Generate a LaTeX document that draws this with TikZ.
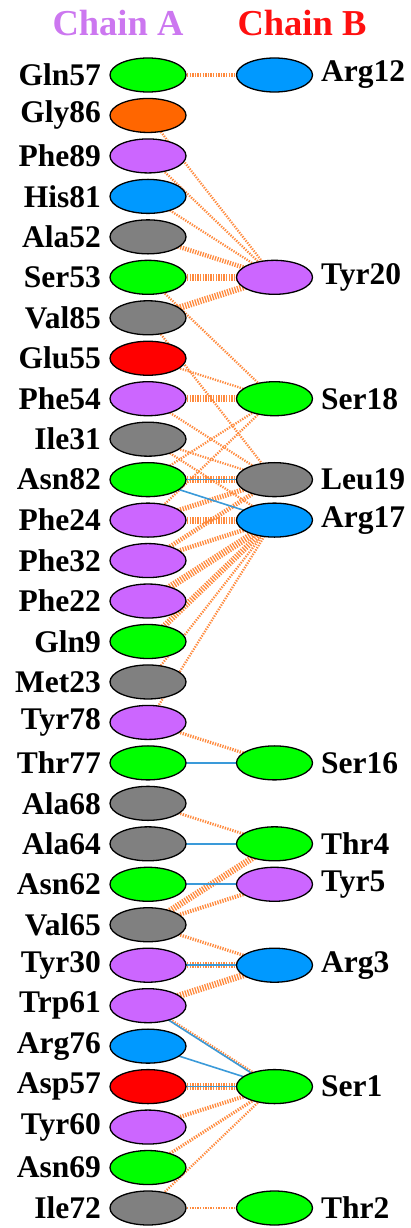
\documentclass[tikz,border=0pt]{standalone}
\usepackage{fontspec}
\setmainfont{Liberation Serif}
\pgfdeclarelayer{bg}
\pgfsetlayers{bg,main}
\definecolor{resgreen}{HTML}{00FF00}
\definecolor{resorange}{HTML}{FF6600}
\definecolor{resviolet}{HTML}{CC66FF}
\definecolor{resblue}{HTML}{0099FF}
\definecolor{resgray}{HTML}{808080}
\definecolor{resred}{HTML}{FF0000}
\definecolor{nbcol}{HTML}{FF8A3D}
\definecolor{hbcol}{HTML}{3A9AD9}
\definecolor{chainA}{HTML}{CC77F0}
\definecolor{chainB}{HTML}{FF1010}
\tikzset{
  res/.style={ellipse, draw=black, line width=1.3pt, minimum width=76pt, minimum height=34pt, inner sep=0pt},
  lab/.style={font=\fontsize{31.5}{31.5}\selectfont\bfseries, inner sep=0pt},
  hdr/.style={font=\fontsize{36.5}{36.5}\selectfont\bfseries, inner sep=0pt},
  nb/.style={draw=nbcol, line width=#1, dash pattern=on 1.3pt off 1.3pt},
  nb/.default=2.3pt,
  hb/.style={draw=hbcol, line width=1.6pt},
}
\usetikzlibrary{shapes.geometric}
\begin{document}
\begin{tikzpicture}[x=1pt,y=-1pt]
\useasboundingbox (0,0) rectangle (411,1228);
% column headers
\node[hdr, text=chainA] (hA) at (118,23) {Chain A};
\node[hdr, text=chainB] (hB) at (302,23) {Chain B};
% chain A residues, one row each
\foreach \n/\c [count=\i from 0] in {
  Gln57/resgreen, Gly86/resorange, Phe89/resviolet, His81/resblue,
  Ala52/resgray, Ser53/resgreen, Val85/resgray, Glu55/resred,
  Phe54/resviolet, Ile31/resgray, Asn82/resgreen, Phe24/resviolet,
  Phe32/resviolet, Phe22/resviolet, Gln9/resgreen, Met23/resgray,
  Tyr78/resviolet, Thr77/resgreen, Ala68/resgray, Ala64/resgray,
  Asn62/resgreen, Val65/resgray, Tyr30/resviolet, Trp61/resviolet,
  Arg76/resblue, Asp57/resred, Tyr60/resviolet, Asn69/resgreen,
  Ile72/resgray}{
  \node[res, fill=\c] (A-\n) at (148,{75+40.464*\i}) {};
  \node[lab, anchor=east] (lA-\n) at (101,{75+40.464*\i}) {\n};
}
% chain B residues, placed on the matching rows
\foreach \n/\c/\i in {
  Arg12/resblue/0, Tyr20/resviolet/5, Ser18/resgreen/8, Leu19/resgray/10,
  Arg17/resblue/11, Ser16/resgreen/17, Thr4/resgreen/19, Tyr5/resviolet/20,
  Arg3/resblue/22, Ser1/resgreen/25, Thr2/resgreen/28}{
  \node[res, fill=\c] (B-\n) at (274.5,{75+40.464*\i}) {};
  \node[lab, anchor=west] (lB-\n) at (321,{75+40.464*\i}) {\n};
}
\begin{pgfonlayer}{bg}
% non-bonded contacts: band width grows with the number of contacts
\foreach \a/\b/\w in {
  Gln57/Arg12/4pt, Gly86/Tyr20/2.3pt, Phe89/Tyr20/2.3pt, His81/Tyr20/2.3pt,
  Ala52/Tyr20/4.5pt, Ser53/Tyr20/7pt, Val85/Tyr20/6.5pt,
  Ser53/Ser18/2.3pt, Val85/Leu19/2.3pt, Glu55/Ser18/2.3pt,
  Phe54/Ser18/7pt, Phe54/Leu19/2.3pt, Ile31/Leu19/2.3pt, Ile31/Arg17/2.3pt,
  Asn82/Ser18/2.3pt, Phe24/Ser18/2.3pt,
  Asn82/Leu19/7pt, Phe24/Leu19/5pt, Phe24/Arg17/7pt,
  Phe32/Leu19/4.5pt, Phe32/Arg17/4.5pt, Phe22/Arg17/7pt, Gln9/Arg17/6pt,
  Met23/Arg17/2.3pt, Tyr78/Arg17/2.3pt,
  Tyr78/Ser16/3.2pt, Thr77/Ser16/2.3pt, Ala68/Thr4/2.8pt, Ala64/Thr4/2.3pt,
  Asn62/Tyr5/2.3pt, Val65/Thr4/6.5pt, Val65/Tyr5/4pt, Val65/Arg3/3.2pt,
  Tyr30/Arg3/6.5pt, Trp61/Arg3/6.5pt, Trp61/Ser1/3.2pt,
  Asp57/Ser1/6.5pt, Tyr60/Ser1/4pt, Asn69/Ser1/3.2pt, Ile72/Ser1/2.3pt,
  Ile72/Thr2/2.8pt}{
  \draw[nb=\w] (A-\a.center) -- (B-\b.center);
}
% hydrogen bonds
\foreach \a/\b in {Asn82/Leu19, Asn82/Arg17, Thr77/Ser16, Ala64/Thr4,
  Asn62/Tyr5, Tyr30/Arg3, Arg76/Ser1, Asp57/Ser1}{
  \draw[hb] (A-\a.center) -- (B-\b.center);
}
\draw[hb, transform canvas={shift={(2.2pt,-2.6pt)}}] (A-Trp61.center) -- (B-Ser1.center);
\end{pgfonlayer}
\end{tikzpicture}
\end{document}
